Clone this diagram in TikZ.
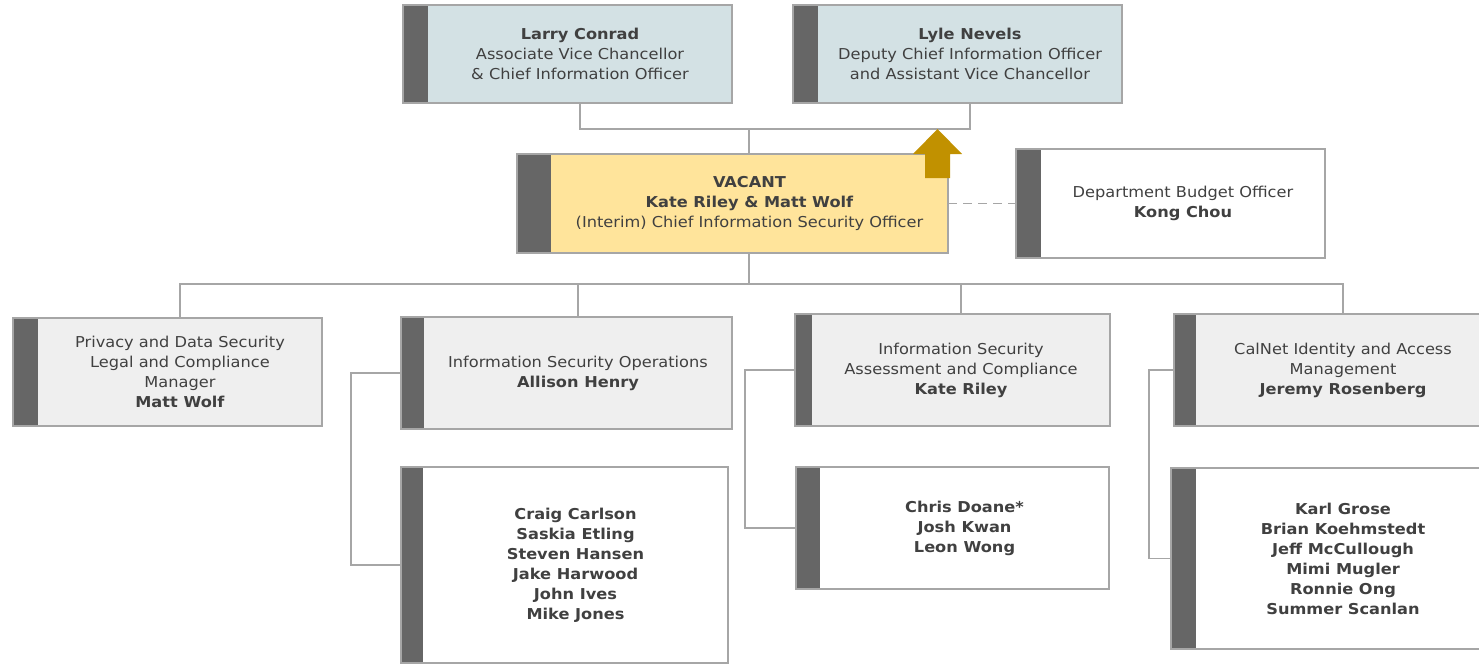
\documentclass[tikz,border=0pt]{standalone}
\usepackage{fontspec}
\setmainfont{DejaVu Sans}[FakeStretch=1.08]
\definecolor{bord}{HTML}{A6A6A6}
\definecolor{barcol}{HTML}{666666}
\definecolor{lblue}{HTML}{D3E1E4}
\definecolor{lgray}{HTML}{EFEFEF}
\definecolor{yel}{HTML}{FFE49B}
\definecolor{gold}{HTML}{C19100}
\definecolor{txt}{HTML}{404040}
\tikzset{
  lightbox/.style={inner sep=0pt, outer sep=0pt, align=center, text=txt,
    font=\fontsize{15}{20}\selectfont},
  darkbar/.style={inner sep=0pt, outer sep=0pt, fill=barcol},
  frame/.style={draw=bord, line width=1.8pt},
  conn/.style={draw=bord, line width=1.8pt},
  dashconn/.style={draw=bord, line width=1.8pt, dash pattern=on 9pt off 6pt},
}
% name, x1, y1, xbar, x2, y2, fill, text
\newcommand\obox[8]{%
  \node[lightbox, fill=#7, anchor=north west, minimum width={(#5-#4)*1pt},
        minimum height={(#6-#3)*1pt}] (#1) at (#4,#3) {#8};
  \node[darkbar, anchor=north east, minimum width={(#4-#2)*1pt},
        minimum height={(#6-#3)*1pt}] (#1bar) at (#1.north west) {};
  \draw[frame] (#1bar.north west) rectangle (#1.south east);
}
\begin{document}
\begin{tikzpicture}[x=1pt,y=-1pt]
\fill[white] (0,0) rectangle (1479,664);
\useasboundingbox (0,0) rectangle (1479,664);

\coordinate (j1) at (749,129);
\coordinate (j2) at (749,284);

\obox{larry}{403}{5}{428}{732}{103}{lblue}{\textbf{Larry Conrad}\\Associate Vice Chancellor\\\& Chief Information Officer}
\obox{lyle}{793}{5}{818}{1122}{103}{lblue}{\textbf{Lyle Nevels}\\Deputy Chief Information Officer\\and Assistant Vice Chancellor}
\obox{vacant}{517}{154}{551}{948}{253}{yel}{\textbf{VACANT}\\\textbf{Kate Riley \& Matt Wolf}\\(Interim) Chief Information Security Officer}
\obox{budget}{1016}{149}{1041}{1325}{258}{white}{Department Budget Officer\\\textbf{Kong Chou}}
\obox{privacy}{13}{318}{38}{322}{426}{lgray}{Privacy and Data Security\\Legal and Compliance\\Manager\\\textbf{Matt Wolf}}
\obox{ops}{401}{317}{424}{732}{429}{lgray}{Information Security Operations\\\textbf{Allison Henry}}
\obox{assess}{795}{314}{812}{1110}{426}{lgray}{Information Security\\Assessment and Compliance\\\textbf{Kate Riley}}
\obox{calnet}{1174}{314}{1196}{1490}{426}{lgray}{CalNet Identity and Access\\Management\\\textbf{Jeremy Rosenberg}}
\obox{craig}{401}{467}{423}{728}{663}{white}{\textbf{Craig Carlson}\\\textbf{Saskia Etling}\\\textbf{Steven Hansen}\\\textbf{Jake Harwood}\\\textbf{John Ives}\\\textbf{Mike Jones}}
\obox{chris}{796}{467}{820}{1109}{589}{white}{\textbf{Chris Doane*}\\\textbf{Josh Kwan}\\\textbf{Leon Wong}}
\obox{karl}{1171}{468}{1196}{1490}{649}{white}{\textbf{Karl Grose}\\\textbf{Brian Koehmstedt}\\\textbf{Jeff McCullough}\\\textbf{Mimi Mugler}\\\textbf{Ronnie Ong}\\\textbf{Summer Scanlan}}

\draw[conn] (larry.south) |- (j1) -| (lyle.south);
\draw[conn] (j1) -- (vacant.north -| j1);
\draw[conn] (vacant.south -| j2) -- (j2);
\draw[conn] (j2) -| (privacy.north);
\draw[conn] (j2) -| (ops.north);
\draw[conn] (j2) -| (assess.north);
\draw[conn] (j2) -| (calnet.north);
\draw[conn] (opsbar.west) -- ++(-50,0) |- (craigbar.west);
\draw[conn] (assessbar.west) -- ++(-50,0) |- (chrisbar.west);
\draw[conn] (calnetbar.west) -- ++(-25,0) |- (karlbar.west);
\draw[dashconn] (vacant.east) -- (budgetbar.west);

% gold arrow
\fill[gold] (925,178) -- (925,154) -- (913,154) -- (937.5,129) -- (962,154)
  -- (950,154) -- (950,178) -- cycle;
\end{tikzpicture}
\end{document}
